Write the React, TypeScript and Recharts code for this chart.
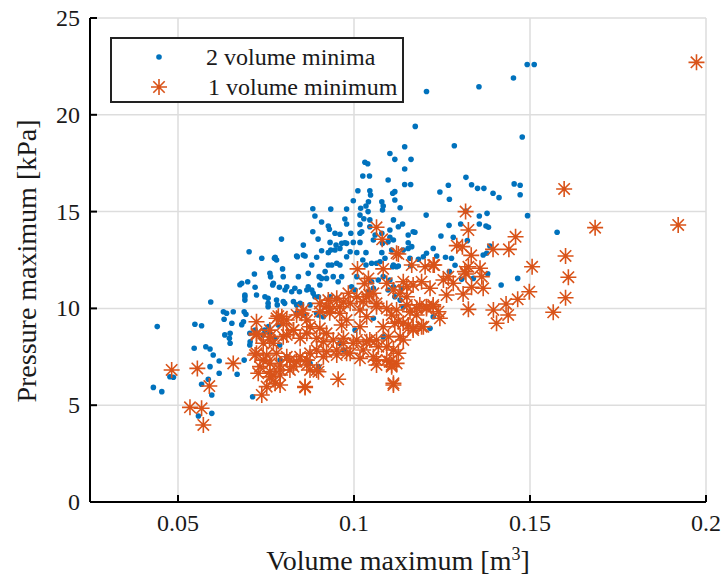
import React from 'react'
import {ScatterChart, Scatter, XAxis, YAxis, CartesianGrid} from 'recharts'

const xTicks = [0.05, 0.1, 0.15, 0.2]
const yTicks = [0, 5, 10, 15, 20, 25]
const seriesNames = ['2 volume minima', '1 volume minimum']

// [volume max m3, pressure max kPa]
const twoMinima: [number, number][] = [
  [0.1492, 22.6], [0.1512, 22.6], [0.1453, 21.9], [0.1355, 21.45], [0.1206, 21.2], [0.1174, 19.4],
  [0.1478, 18.85], [0.1285, 18.4], [0.1144, 18.35], [0.1102, 18.0], [0.1031, 17.55], [0.1039, 17.47],
  [0.1116, 17.7], [0.1162, 17.7], [0.1144, 17.2], [0.1025, 16.84], [0.1044, 16.84], [0.1097, 16.63],
  [0.1144, 16.4], [0.1161, 16.4], [0.1045, 16.08], [0.1047, 15.86], [0.1011, 16.08], [0.1116, 16.03],
  [0.0998, 15.56], [0.1041, 15.51], [0.1079, 15.51], [0.1083, 15.29], [0.1034, 15.29], [0.1019, 15.17],
  [0.0979, 15.13], [0.0934, 15.13], [0.0883, 15.15], [0.0889, 14.77], [0.1017, 14.82], [0.1081, 15.08],
  [0.104, 15.0], [0.1028, 14.63], [0.1045, 14.57], [0.0974, 14.62], [0.0979, 14.36], [0.0908, 14.46],
  [0.0927, 14.26], [0.093, 14.09], [0.1017, 14.34], [0.0883, 13.96], [0.096, 13.83], [0.0946, 13.88],
  [0.0991, 13.88], [0.1017, 13.88], [0.1045, 14.22], [0.106, 13.79], [0.0794, 13.58], [0.0898, 13.58],
  [0.0932, 13.41], [0.0949, 13.27], [0.0965, 13.36], [0.0974, 13.39], [0.0998, 13.41], [0.1017, 13.41],
  [0.0856, 13.27], [0.0908, 12.98], [0.0934, 13.02], [0.0946, 13.02], [0.096, 13.1], [0.0989, 12.93],
  [0.1008, 12.88], [0.1034, 12.88], [0.0776, 12.64], [0.0856, 12.76], [0.0839, 12.67], [0.0894, 12.64],
  [0.0927, 12.88], [0.1022, 13.96], [0.0979, 13.36], [0.1154, 13.39], [0.1168, 13.96], [0.0979, 12.67],
  [0.1197, 12.67], [0.1055, 13.53], [0.1079, 13.88], [0.1081, 13.36], [0.1097, 13.44], [0.1112, 13.53],
  [0.111, 15.95], [0.1116, 15.6], [0.1131, 15.2], [0.1205, 14.82], [0.1112, 14.57], [0.1126, 14.22],
  [0.1138, 14.36], [0.1102, 14.05], [0.1173, 13.93], [0.1154, 13.79], [0.1102, 13.67], [0.1164, 13.19],
  [0.1107, 13.02], [0.1079, 12.88],
  [0.1318, 16.77], [0.1268, 16.36], [0.1244, 16.01], [0.1271, 15.64], [0.1334, 16.39], [0.1351, 16.2],
  [0.1369, 16.2], [0.1395, 15.95], [0.1412, 15.72], [0.1455, 16.43], [0.1472, 16.36], [0.1472, 15.87],
  [0.1318, 15.03], [0.1356, 14.77], [0.1378, 14.91], [0.1493, 14.79], [0.127, 14.29], [0.1303, 14.36],
  [0.1356, 14.36], [0.1375, 14.26], [0.1382, 14.19], [0.1577, 13.93], [0.1247, 13.74], [0.1282, 13.67],
  [0.1322, 13.5], [0.1386, 13.22], [0.1367, 12.76], [0.1377, 12.85], [0.1235, 12.71], [0.126, 12.64],
  [0.1277, 12.59], [0.1287, 12.23], [0.138, 11.79], [0.1418, 11.21], [0.1465, 11.55],
  [0.0702, 12.93], [0.0738, 12.59], [0.0774, 12.59], [0.078, 12.5], [0.0837, 12.71], [0.0861, 12.71],
  [0.0717, 11.78], [0.0761, 11.81], [0.0763, 11.64], [0.0799, 11.64], [0.0842, 11.64], [0.087, 11.81],
  [0.0901, 11.64], [0.0927, 12.24], [0.0937, 12.24], [0.0951, 12.33], [0.096, 12.24], [0.0918, 11.9],
  [0.0965, 11.64], [0.0681, 11.3], [0.0719, 11.09], [0.0769, 11.21], [0.0788, 11.09], [0.0809, 11.12],
  [0.0832, 11.04], [0.0845, 10.86], [0.087, 11.12], [0.088, 10.95], [0.0903, 11.21], [0.0723, 10.69],
  [0.0756, 10.52], [0.069, 10.43], [0.069, 10.6], [0.078, 10.43], [0.0799, 10.35], [0.0828, 10.35],
  [0.0837, 10.18], [0.0851, 10.18], [0.0889, 10.6], [0.0932, 10.6], [0.0951, 10.52], [0.0837, 9.75],
  [0.0856, 9.66], [0.0898, 9.66], [0.0686, 9.31], [0.0742, 8.63], [0.0719, 8.88], [0.0705, 8.28],
  [0.1025, 12.5], [0.1034, 12.24], [0.105, 12.33], [0.1064, 12.33], [0.1074, 12.41], [0.1088, 12.59],
  [0.111, 12.15], [0.1121, 12.15], [0.114, 13.02], [0.1154, 13.1], [0.1161, 12.2], [0.1206, 12.85],
  [0.1225, 13.1], [0.1008, 11.64], [0.105, 11.38], [0.1069, 11.47], [0.1083, 11.64], [0.0993, 11.12],
  [0.1003, 10.95], [0.1041, 10.86], [0.1055, 11.04], [0.1097, 10.95], [0.1112, 11.12],
  [0.088, 12.24], [0.0908, 11.55], [0.0922, 11.55], [0.0941, 11.64], [0.0955, 11.38], [0.0771, 11.3],
  [0.0804, 10.95], [0.0823, 10.86], [0.0866, 10.95], [0.0884, 10.78], [0.0899, 10.6], [0.0747, 10.6],
  [0.0756, 10.26], [0.0847, 10.26], [0.0875, 10.18], [0.0894, 9.75], [0.0913, 9.57], [0.0757, 9.06],
  [0.0785, 9.14], [0.0809, 7.5], [0.079, 7.33], [0.0875, 7.16], [0.0899, 6.99], [0.096, 8.2],
  [0.097, 7.85], [0.1003, 8.88], [0.1055, 9.49], [0.1083, 8.54],
  [0.1159, 12.59], [0.1183, 12.54], [0.1112, 12.24], [0.1126, 12.19], [0.1271, 11.9], [0.1102, 11.47],
  [0.1116, 10.6], [0.1131, 10.43], [0.114, 10.09], [0.1216, 8.97], [0.1225, 9.57], [0.1135, 11.04],
  [0.1306, 11.5], [0.1339, 11.55],
  [0.0593, 10.33], [0.0441, 9.06], [0.0548, 9.18], [0.0567, 9.1], [0.0546, 7.94], [0.0579, 8.02],
  [0.0591, 7.9], [0.06, 7.59], [0.0617, 7.28], [0.0591, 6.99], [0.0668, 6.6], [0.0617, 6.65],
  [0.0477, 6.47], [0.0487, 6.44], [0.043, 5.92], [0.0454, 5.7], [0.0586, 6.34], [0.0567, 6.08],
  [0.0596, 5.53], [0.0558, 4.44], [0.0596, 4.58], [0.0676, 11.22], [0.0698, 11.38], [0.069, 10.69],
  [0.0629, 9.83], [0.0638, 9.75], [0.0657, 9.83], [0.0688, 9.83], [0.0693, 9.7], [0.0631, 9.44],
  [0.0653, 9.23], [0.0681, 9.16], [0.0633, 8.63], [0.0648, 8.71], [0.0646, 8.46], [0.0648, 8.2],
  [0.0704, 8.71], [0.0688, 7.33], [0.0704, 8.11], [0.0712, 5.44],
  [0.0756, 10.09], [0.0782, 10.18], [0.0803, 10.26], [0.0746, 8.88], [0.076, 8.71], [0.0789, 8.11],
  [0.0775, 8.46], [0.0797, 12.04],
]

const oneMinimum: [number, number][] = [
  [0.1973, 22.71], [0.1597, 16.17], [0.1317, 15.0], [0.1685, 14.17], [0.1921, 14.31], [0.1325, 14.05],
  [0.1459, 13.7], [0.1292, 13.24], [0.1308, 13.19], [0.1395, 13.05], [0.144, 13.05], [0.1333, 12.74],
  [0.1601, 12.71], [0.1228, 12.24], [0.1506, 12.15], [0.1325, 12.15], [0.1358, 12.07], [0.1609, 11.61],
  [0.1254, 11.47], [0.1318, 11.78], [0.1363, 11.64], [0.1282, 11.3], [0.1334, 11.09], [0.1367, 11.04],
  [0.1263, 10.69], [0.131, 10.74], [0.1498, 10.86], [0.1601, 10.55], [0.1465, 10.47], [0.1432, 10.23],
  [0.1225, 10.09], [0.124, 9.83], [0.1325, 9.95], [0.1396, 9.92], [0.1438, 9.66], [0.1566, 9.8],
  [0.1244, 9.49], [0.1405, 9.23],
  [0.0482, 6.82], [0.0555, 6.9], [0.0657, 7.16], [0.0589, 5.99], [0.0534, 4.89], [0.0567, 4.84],
  [0.0572, 3.98], [0.0738, 5.53], [0.0723, 9.31], [0.0723, 8.63], [0.0719, 7.59], [0.0728, 6.65],
  [0.101, 12.04], [0.1083, 12.04], [0.1041, 11.55], [0.0984, 10.78], [0.1008, 10.6], [0.0927, 10.43],
  [0.0951, 10.52], [0.1036, 10.6], [0.1055, 10.78], [0.1064, 10.26], [0.0903, 9.83], [0.0922, 10.09],
  [0.0856, 9.92], [0.0837, 9.66], [0.0809, 9.4], [0.078, 9.49], [0.0795, 9.57], [0.096, 9.75],
  [0.0979, 9.4], [0.0965, 9.14], [0.1017, 9.92], [0.1036, 9.57], [0.1017, 9.05], [0.1093, 10.0],
  [0.1107, 9.66], [0.1116, 9.23], [0.0875, 9.05], [0.0903, 8.97], [0.0922, 8.71], [0.0828, 8.88],
  [0.0809, 8.63], [0.0847, 8.46], [0.0761, 8.88], [0.0742, 8.2], [0.0771, 8.2], [0.0941, 8.37],
  [0.097, 8.2], [0.1008, 8.37], [0.1045, 8.37], [0.1069, 8.02], [0.1093, 8.02], [0.1112, 7.85],
  [0.0894, 7.85], [0.0922, 7.76], [0.0951, 7.85], [0.0989, 7.68], [0.1026, 7.85], [0.0866, 7.33],
  [0.0837, 7.25], [0.0809, 7.5], [0.079, 7.08], [0.0761, 7.16], [0.0742, 7.33], [0.0899, 6.73],
  [0.0875, 6.82], [0.0818, 6.82], [0.079, 6.56], [0.0761, 6.47], [0.0776, 6.13], [0.0752, 5.96],
  [0.079, 6.04], [0.0861, 5.96], [0.0955, 6.34], [0.1112, 6.04], [0.1064, 7.33], [0.1102, 7.25],
  [0.1164, 12.24], [0.1202, 12.15], [0.1225, 12.24], [0.1315, 11.9], [0.114, 11.38], [0.1168, 11.21],
  [0.1192, 11.38], [0.1268, 11.64], [0.1216, 11.04], [0.1112, 10.95], [0.1131, 10.78], [0.115, 10.6],
  [0.1187, 10.18], [0.1206, 10.0], [0.1225, 10.18], [0.1159, 9.83], [0.1178, 9.66], [0.1126, 9.31],
  [0.1154, 9.14], [0.1168, 8.88], [0.1192, 9.05], [0.114, 8.37], [0.1131, 8.54], [0.1126, 7.68],
  [0.1107, 7.08], [0.1126, 12.81], [0.1064, 14.19], [0.108, 13.57], [0.1121, 12.85], [0.0799, 9.2],
  [0.0851, 9.75], [0.1093, 11.3], [0.115, 11.12], [0.076, 8.37], [0.097, 10.33], [0.1043, 10.71],
  [0.103, 11.28], [0.0931, 9.77],
  [0.0785, 9.6], [0.0866, 9.4], [0.0903, 10.26], [0.0932, 10.0], [0.096, 10.09], [0.0989, 10.26],
  [0.1026, 10.35], [0.1064, 10.09], [0.1121, 9.92], [0.115, 10.18], [0.1178, 10.0], [0.1206, 10.09],
  [0.114, 9.23], [0.1168, 8.97], [0.1197, 9.05], [0.1083, 9.05], [0.1098, 8.54], [0.0723, 8.71],
  [0.0761, 8.54], [0.0799, 8.54], [0.0828, 8.88], [0.0866, 8.71], [0.0894, 8.46], [0.0913, 8.28],
  [0.097, 8.46], [0.0998, 8.2], [0.1036, 8.28], [0.1064, 8.37], [0.0723, 7.68], [0.0752, 7.59],
  [0.078, 7.68], [0.0818, 7.33], [0.0847, 7.5], [0.0875, 7.68], [0.0913, 7.5], [0.0951, 7.59],
  [0.0979, 7.68], [0.1017, 7.42], [0.1055, 7.5], [0.1093, 7.33], [0.1121, 7.16], [0.0733, 6.99],
  [0.0761, 6.73], [0.079, 6.82], [0.0828, 6.99], [0.0866, 7.08], [0.0894, 6.82], [0.1064, 7.08],
  [0.1107, 6.99], [0.0766, 6.47], [0.0861, 5.92], [0.1112, 6.13],
]

const BLUE = '#0072BD'
const ORANGE = '#D95319'
const FONT = 'Liberation Serif, DejaVu Serif, serif'
const INK = '#1a1a1a'
const textStyle = (size: number): React.CSSProperties => ({fontFamily: FONT, fontSize: size, fill: INK})

const toRows = (pts: [number, number][]) => pts.map(([x, y]) => ({x, y}))

const Dot = (props: any) => <circle cx={props.cx} cy={props.cy} r={2.8} fill={BLUE} />

const starPath = (cx: number, cy: number) => {
  const a = 8
  const d = 5.7
  return `M${cx - a},${cy}H${cx + a}M${cx},${cy - a}V${cy + a}M${cx - d},${cy - d}L${cx + d},${cy + d}M${cx - d},${cy + d}L${cx + d},${cy - d}`
}

const Star = (props: any) => (
  <path d={starPath(props.cx, props.cy)} stroke={ORANGE} strokeWidth={1.6} fill="none" />
)

const YTick = ({x, y, payload}: any) => (
  <g>
    <line x1={x + 10} x2={x + 17} y1={y} y2={y} stroke="#000" strokeWidth={2} />
    <text x={x} y={y + 8} textAnchor="end" style={textStyle(24)}>
      {payload.value}
    </text>
  </g>
)

const XTick = ({x, y, payload}: any) => (
  <g>
    <line x1={x} x2={x} y1={y} y2={y - 7} stroke="#000" strokeWidth={2} />
    <text x={x} y={y + 29} textAnchor="middle" style={textStyle(24)}>
      {String(payload.value)}
    </text>
  </g>
)

const App = () => {
  return (
    <div style={{position: 'absolute', left: 0, top: 0, width: 724, height: 578, background: '#fff', fontFamily: FONT}}>
      <ScatterChart width={724} height={578} margin={{top: 18, right: 18, bottom: 0, left: 0}}>
        <CartesianGrid stroke="#dddddd" strokeWidth={1.5} />
        <XAxis
          dataKey="x"
          type="number"
          domain={[0.025, 0.2]}
          ticks={xTicks}
          allowDataOverflow
          height={76}
          tickSize={0}
          tickMargin={0}
          tick={<XTick />}
          tickLine={false}
          axisLine={{stroke: '#000', strokeWidth: 2}}
        />
        <XAxis
          xAxisId="top"
          orientation="top"
          type="number"
          domain={[0.025, 0.2]}
          ticks={xTicks}
          allowDataOverflow
          height={0}
          tick={false}
          tickSize={-7}
          tickLine={{stroke: '#000', strokeWidth: 2}}
          axisLine={{stroke: '#000', strokeWidth: 2}}
        />
        <YAxis
          dataKey="y"
          type="number"
          domain={[0, 25]}
          ticks={yTicks}
          allowDataOverflow
          width={90}
          tickSize={0}
          tickMargin={10}
          tick={<YTick />}
          tickLine={false}
          axisLine={{stroke: '#000', strokeWidth: 2}}
        />
        <YAxis
          yAxisId="right"
          orientation="right"
          type="number"
          domain={[0, 25]}
          ticks={yTicks}
          allowDataOverflow
          width={0}
          tick={false}
          tickSize={-7}
          tickLine={{stroke: '#000', strokeWidth: 2}}
          axisLine={{stroke: '#000', strokeWidth: 2}}
        />
        <Scatter name={seriesNames[0]} data={toRows(twoMinima)} shape={Dot} isAnimationActive={false} />
        <Scatter name={seriesNames[1]} data={toRows(oneMinimum)} shape={Star} isAnimationActive={false} />
      </ScatterChart>

      <svg width={724} height={578} style={{position: 'absolute', left: 0, top: 0, pointerEvents: 'none'}}>
        <rect x={111} y={38} width={292} height={64} fill="#fff" stroke="#222" strokeWidth={2} />
        <circle cx={159} cy={57} r={2.8} fill={BLUE} />
        <text x={206} y={65} style={textStyle(24)}>{seriesNames[0]}</text>
        <path d={starPath(159, 87)} stroke={ORANGE} strokeWidth={1.6} fill="none" />
        <text x={208} y={95} style={textStyle(24)}>{seriesNames[1]}</text>

        <text x={398} y={570} textAnchor="middle" style={textStyle(28)}>
          Volume maximum [m<tspan dy={-10} style={{fontSize: 18}}>3</tspan><tspan dy={10}>]</tspan>
        </text>
        <text transform="translate(36, 261) rotate(-90)" textAnchor="middle" style={textStyle(28)}>
          Pressure maximum [kPa]
        </text>
      </svg>
    </div>
  )
}

export default App
